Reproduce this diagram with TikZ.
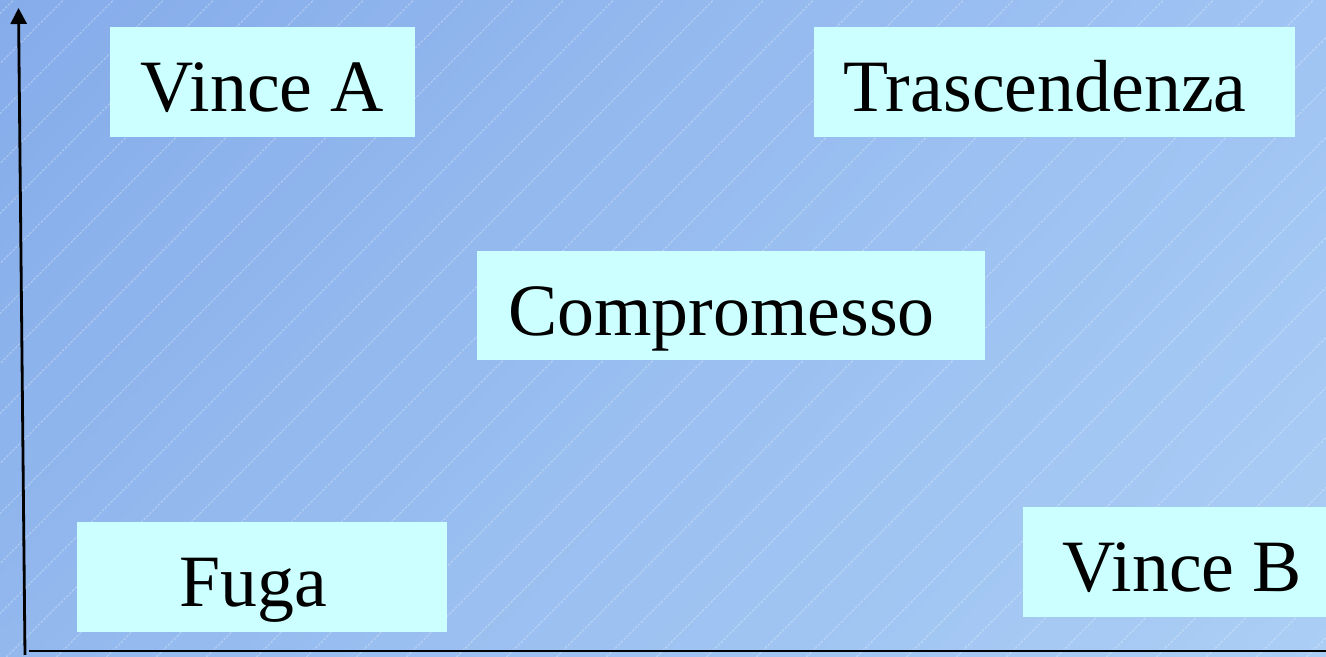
\documentclass[tikz,border=0pt]{standalone}
\usepackage{fontspec}
\setmainfont{Liberation Serif}
\usepackage{tikz}
\usepackage{xcolor}
\definecolor{boxcyan}{HTML}{CCFFFF}
\definecolor{bgul}{HTML}{86ACEA}
\definecolor{bgur}{HTML}{A0C4F3}
\definecolor{bgll}{HTML}{92B8EE}
\definecolor{bglr}{HTML}{ABCEF5}
\tikzset{box/.style={fill=boxcyan,draw=none,inner sep=0pt,minimum height=2.2cm},
 word/.style={font=\fontsize{42}{50}\selectfont,inner sep=0pt,anchor=base},
 axis/.style={line width=1.6pt,draw=black},
 hatch/.style={draw=white,opacity=.35,line width=.5pt,dash pattern=on 1.5pt off .8pt},
 }
\usetikzlibrary{arrows.meta}
\usetikzlibrary{shadings}

\begin{document}
\begin{tikzpicture}
        \useasboundingbox (0,0) rectangle (26.52,13.14);
        \shade[upper left=bgul,upper right=bgur,lower left=bgll,lower right=bglr] (0,0) rectangle (26.52,13.14);
        \begin{scope}
            \clip (0,0) rectangle (26.52,13.14);
            \foreach \i in {-14,...,27}
                \draw[hatch] (\i+.13,0) -- ++(13.3,13.3);
        \end{scope}
        \node[box, minimum width=6.1cm] (vinceA) at (5.25,11.5) {};
        \node[box, minimum width=9.62cm] (trasc) at (21.09,11.5) {};
        \node[box, minimum width=10.16cm, minimum height=2.18cm] (compr) at (14.62,7.03) {};
        \node[box, minimum width=7.4cm] (fuga) at (5.24,1.6) {};
        \node[box, minimum width=6.24cm] (vinceB) at (23.58,1.9) {};
        \node[word] (vinceAt) at (5.25,10.906) {Vince A};
        \node[word] (trasct) at (20.9,10.906) {Trascendenza};
        \node[word] (comprt) at (14.43,6.426) {Compromesso};
        \node[word] (fugat) at (5.07,1.006) {Fuga};
        \node[word] (vinceBt) at (23.65,1.306) {Vince B};
        \coordinate (ybot) at (.5,.04);
        \coordinate (ytop) at (.37,12.98);
        \coordinate (xleft) at (.58,.12);
        \coordinate (xright) at (26.6,.12);
        \draw[axis, -{Triangle[width=.32cm,length=.32cm]}] (ybot) -- (ytop);
        \draw[axis] (xleft) -- (xright);
    \end{tikzpicture}
\end{document}
